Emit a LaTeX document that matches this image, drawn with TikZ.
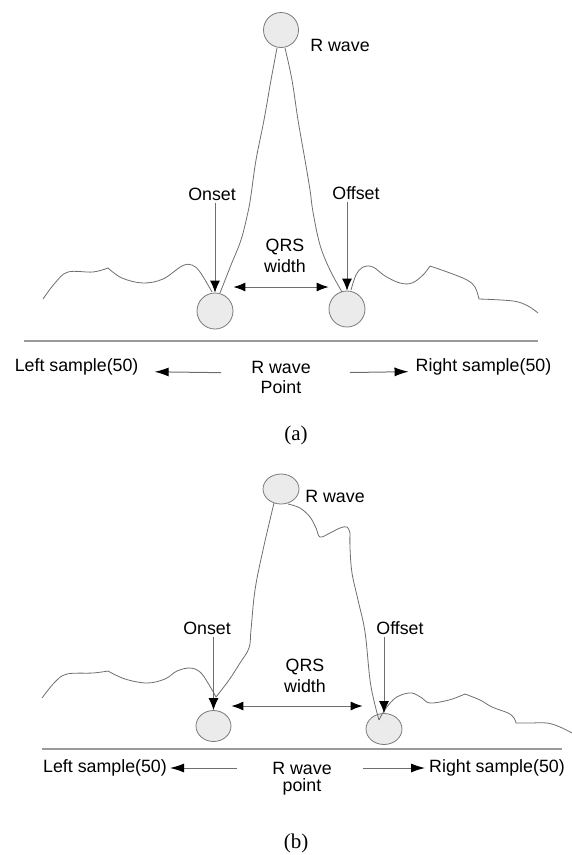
\documentclass[tikz,border=0pt]{standalone}
\usepackage{fontspec}
\setmainfont{Liberation Serif}
\newfontfamily\arialfont{Liberation Sans}
\usetikzlibrary{arrows.meta}
\usetikzlibrary{shapes.geometric}
\definecolor{CurveGray}{HTML}{6E6E6E}
\definecolor{RimGray}{HTML}{7A7A7A}
\definecolor{FillGray}{HTML}{EBEBEB}
\definecolor{RuleGray}{HTML}{9A9A9A}
\tikzset{
  peak/.style={draw=RimGray,fill=FillGray,ellipse,inner sep=0pt,line width=0.8pt},
  lbl/.style={font=\arialfont\fontsize{17.8}{21.7}\selectfont,inner sep=2pt},
  figtag/.style={font=\fontsize{21}{25}\selectfont,inner sep=2pt},
  ecg/.style={CurveGray,line width=0.8pt},
  baseline rule/.style={RuleGray,line width=1.3pt},
  pointer/.style={CurveGray,line width=0.9pt,-{Latex[length=12pt,width=10pt,black]}},
  qrs span/.style={CurveGray,line width=0.9pt,{Latex[length=12pt,width=9pt,black]}-{Latex[length=12pt,width=9pt,black]}},
  side/.style={CurveGray,line width=1pt,-{Latex[length=14pt,width=9pt,black]}}
}
\begin{document}
\begin{tikzpicture}[x=1pt,y=-1pt]
  \useasboundingbox (0,0) rectangle (572,855);

  % (a)
  \node[peak,minimum width=35pt,minimum height=35pt] (RA) at (281,30) {};
  \node[peak,minimum width=36pt,minimum height=36pt] (QonA) at (215,311) {};
  \node[peak,minimum width=36pt,minimum height=36pt] (QoffA) at (347,309) {};

  \draw[ecg] plot[smooth,tension=0.6] coordinates {(277,48) (271,80) (264,120) (256,160) (251,195) (248,212) (241,240) (231,265) (220,293)};
  \draw[ecg] plot[smooth,tension=0.6] coordinates {(285,48) (292,80) (298,120) (305,160) (310,190) (313,212) (320,245) (330,270) (342,292)};
  \draw[ecg] plot[smooth,tension=0.6] coordinates {(43,299) (55,283) (68,272) (93,272) (108,268)};
  \draw[ecg] plot[smooth,tension=0.6] coordinates {(108,268) (122,278) (143,283) (163,279) (182,266) (192,265) (200,272) (212,292)};
  \draw[ecg] plot[smooth,tension=0.6] coordinates {(351,290) (356,275) (363,267) (373,267) (385,276) (400,283) (412,283) (423,275) (430,266)};
  \draw[ecg] plot[smooth,tension=0.6] coordinates {(430,266) (450,273) (467,280) (475,287) (479,299)};
  \draw[ecg] plot[smooth,tension=0.6] coordinates {(479,299) (513,301) (528,306) (538,313)};

  \node[lbl] (RlabA) at (340,45) {R wave};
  \node[lbl] (OnsetA) at (212,194) {Onset};
  \node[lbl] (OffsetA) at (356,193) {Offset};
  \node[lbl,align=center] (QrsA) at (285,256) {QRS\\width};

  \draw[pointer] (OnsetA.south -| QonA.north) -- (QonA.north);
  \draw[pointer] (OffsetA.south -| QoffA.north) -- (QoffA.north);
  \draw[qrs span] ([yshift=24pt]QonA.east) -- ([yshift=22pt]QoffA.west);

  \draw[baseline rule] (24,341) -- (538,341);

  \node[lbl] (LeftA) at (76.6,367) {Left sample(50)};
  \node[lbl] (RwA) at (281,367) {R wave};
  \node[lbl] (PointA) at (281,387.5) {Point};
  \node[lbl] (RightA) at (483.5,367) {Right sample(50)};
  \draw[side,shorten <=28pt,shorten >=14pt] (RwA.base west) -- (LeftA.base east);
  \draw[side,shorten <=37pt,shorten >=5pt] (RwA.base east) -- (RightA.base west);

  \node[figtag] (CapA) at (296,435) {(a)};

  % (b)
  \node[peak,minimum width=36pt,minimum height=30pt] (RB) at (281,489) {};
  \node[peak,minimum width=35pt,minimum height=31pt] (QonB) at (213.5,726) {};
  \node[peak,minimum width=36pt,minimum height=31pt] (QoffB) at (384,729) {};

  \draw[ecg] plot[smooth,tension=0.6] coordinates {(274,503) (263,550) (255,590) (251,630) (249,648) (240,663) (229,680) (216,697)};
  \draw[ecg] plot[smooth,tension=0.6] coordinates {(288,504) (300,508) (310,517) (316,528) (320,537) (330,533) (340,528) (347,527) (350,533)};
  \draw[ecg] plot[smooth,tension=0.6] coordinates {(350,533) (350,548) (352,573) (358,600) (365,632) (370,680) (375,705) (379,720)};
  \draw[ecg] plot[smooth,tension=0.6] coordinates {(42,698) (55,682) (67,674) (93,673) (108,671)};
  \draw[ecg] plot[smooth,tension=0.6] coordinates {(108,671) (125,679) (147,683) (165,679) (177,671) (190,668) (200,672) (208,683) (216,697)};
  \draw[ecg] plot[smooth,tension=0.6] coordinates {(379,720) (384,711) (393,700) (401,695) (412,693) (422,698) (430,703) (449,700) (465,694)};
  \draw[ecg] plot[smooth,tension=0.6] coordinates {(465,694) (480,700) (492,707) (508,713) (514,718) (516,723)};
  \draw[ecg] plot[smooth,tension=0.6] coordinates {(516,723) (530,723) (547,723) (560,727) (572,733)};

  \node[lbl] (RlabB) at (335,496) {R wave};
  \node[lbl] (OnsetB) at (207,628) {Onset};
  \node[lbl] (OffsetB) at (400,628) {Offset};
  \node[lbl,align=center] (QrsB) at (305,676) {QRS\\width};

  \draw[pointer] (OnsetB.south -| QonB.north) -- (QonB.north);
  \draw[pointer] (OffsetB.south -| QoffB.north) -- (QoffB.north);
  \draw[qrs span,shorten >=3pt] ([yshift=20pt]QonB.east) -- ([yshift=23pt]QoffB.west);

  \draw[baseline rule] (42,749) -- (562,749);

  \node[lbl] (LeftB) at (105,768) {Left sample(50)};
  \node[lbl] (RwB) at (302,768) {R wave};
  \node[lbl] (PointB) at (302,787) {point};
  \node[lbl] (RightB) at (497,768) {Right sample(50)};
  \draw[side,shorten <=33pt,shorten >=1pt] (RwB.west) -- (LeftB.east);
  \draw[side,shorten <=29pt,shorten >=2pt] (RwB.east) -- (RightB.west);

  \node[figtag] (CapB) at (296,843) {(b)};
\end{tikzpicture}
\end{document}
